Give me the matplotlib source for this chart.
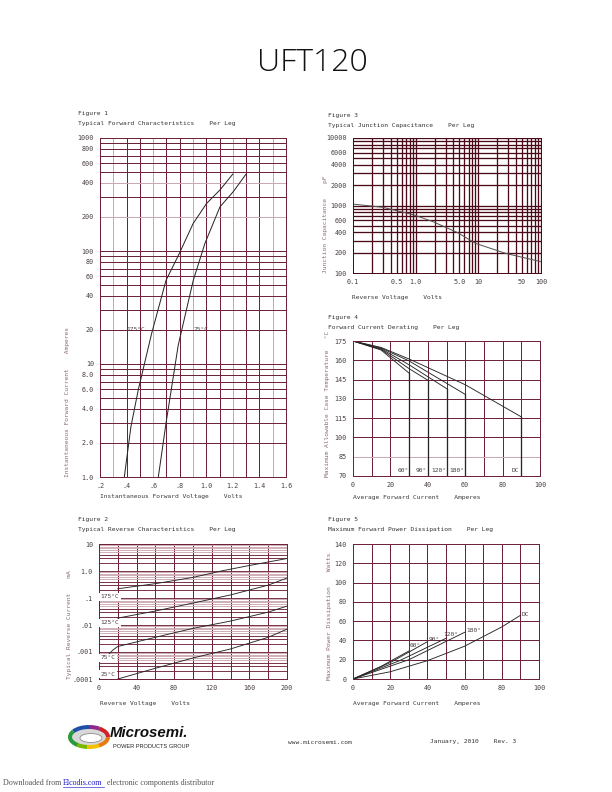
import matplotlib
matplotlib.use('Agg')
import matplotlib.pyplot as plt
from matplotlib.patches import Arc, Ellipse
from matplotlib.lines import Line2D

# ---- values ----
# Figure 1: forward characteristics (volts, amperes)
vf_175 = [0.383, 0.433, 0.488, 0.589, 0.697, 0.797, 0.902, 1.003, 1.103, 1.2]
if_175 = [1.0, 2.8, 5.9, 18.7, 55, 95, 176, 264, 347, 480]
vf_25 = [0.639, 0.697, 0.789, 0.902, 0.99, 1.103, 1.203, 1.3]
if_25 = [1.0, 3.0, 14.7, 55, 117, 246, 335, 480]
f1_xticks = [0.2, 0.4, 0.6, 0.8, 1.0, 1.2, 1.4, 1.6]
f1_xlabels = ['.2', '.4', '.6', '.8', '1.0', '1.2', '1.4', '1.6']
f1_yticks = [1, 2, 4, 6, 8, 10, 20, 40, 60, 80, 100, 200, 400, 600, 800, 1000]
f1_ylabels = ['1.0', '2.0', '4.0', '6.0', '8.0', '10', '20', '40', '60', '80',
              '100', '200', '400', '600', '800', '1000']

# Figure 2: reverse characteristics (volts, mA)
vr_175 = [20, 60, 100, 130, 160, 200]
ir_175 = [0.22, 0.34, 0.58, 1.0, 1.6, 2.9]
vr_125 = [20, 60, 100, 140, 180, 200]
ir_125 = [0.018, 0.033, 0.065, 0.13, 0.3, 0.55]
vr_75 = [10, 15, 20, 60, 100, 140, 180, 200]
ir_75 = [0.0008, 0.0012, 0.0016, 0.0035, 0.0075, 0.014, 0.03, 0.05]
vr_25 = [20, 60, 100, 140, 180, 200]
ir_25 = [0.0001, 0.00025, 0.0006, 0.0013, 0.0035, 0.007]
f2_labels = ['175°C', '125°C', '75°C', '25°C']
f2_label_y = [0.11, 0.012, 0.0006, 0.00015]
f2_yticks = [0.0001, 0.001, 0.01, 0.1, 1, 10]
f2_ylabels = ['.0001', '.001', '.01', '.1', '1.0', '10']

# Figure 3: junction capacitance (volts, pF)
vr_cap = [0.1, 0.3, 0.95, 1.9, 4.7, 9, 27, 59, 100]
cj = [1050, 940, 723, 575, 395, 275, 196, 165, 147]
f3_xticks = [0.1, 0.5, 1, 5, 10, 50, 100]
f3_xlabels = ['0.1', '0.5', '1.0', '5.0', '10', '50', '100']
f3_yticks = [100, 200, 400, 600, 1000, 2000, 4000, 6000, 10000]

# Figure 4: current derating (amperes, deg C)
der_names = ['60°', '90°', '120°', '180°', 'DC']
der_x = [[0, 15, 30], [0, 15, 30, 40], [0, 15, 30, 50], [0, 15, 30, 60],
         [0, 15, 30, 60, 90]]
der_t = [[175, 168, 150], [175, 168.5, 153.5, 144.5], [175, 169, 156.5, 138],
         [175, 169.5, 159.5, 133.5], [175, 170, 161, 141, 116]]

# Figure 5: power dissipation (amperes, watts)
pw_names = ['60°', '90°', '120°', '180°', 'DC']
pw_x = [[0, 15, 30], [0, 20, 40], [0, 25, 50], [0, 30, 60],
        [0, 20, 40, 60, 80, 90]]
pw_p = [[0, 13, 29], [0, 17, 38.7], [0, 19, 42.2], [0, 20, 48.4],
        [0, 7.5, 19, 34, 54, 66]]
pw_lab_xy = [(30.5, 32), (40.5, 38.5), (48.5, 44), (61, 48), (90.5, 64)]

W, H = 612, 792
MONO = 'DejaVu Sans Mono'
plt.rcParams['font.family'] = [MONO]
GRID = '#6f2338'
DARK = '#4a0a1a'
LIGHT = '#cba9b2'
TXT = '#4a3e42'
YLAB = '#8a6a72'
CURVE = '#262626'

fig = plt.figure(figsize=(W / 72, H / 72), dpi=72)
fig.patch.set_facecolor('white')


def add_ax(l, t, r, b):
    return fig.add_axes([l / W, 1 - b / H, (r - l) / W, (b - t) / H])


def ftext(x, y, s, **kw):
    return fig.text(x / W, 1 - y / H, s, **kw)


def style(ax, col):
    for s in ax.spines.values():
        s.set_color(col)
        s.set_linewidth(1.0)
        s.set_zorder(3)
    ax.tick_params(which='both', length=0, labelsize=6.8, colors=TXT, pad=6)
    ax.minorticks_off()


def heads(x, y, n, title, ylab, ybot, ylx, xlab, xly, xl):
    ftext(x, y, 'Figure %d' % n, fontsize=6.2, color='#333333', va='center')
    ftext(x, y + 10, title, fontsize=6.2, color='#333333', va='center')
    ftext(ylx, ybot, ylab, fontsize=6.2, color=YLAB, rotation=90,
          ha='center', va='bottom')
    ftext(xl, xly, xlab, fontsize=6.2, color='#3a3a3a', va='center')


# ---- Figure 1 ----
ax1 = add_ax(100, 138, 286, 477)
ax1.set_yscale('log')
ax1.set_xlim(0.2, 1.6)
ax1.set_ylim(1, 1000)
for i in range(3, 16):
    ax1.axvline(i / 10, color=LIGHT if i % 3 == 0 else GRID, lw=1.0, zorder=1)
for dec in [1, 10, 100]:
    for m in range(2, 11):
        val = m * dec
        ax1.axhline(val, color=LIGHT if val in (200, 400, 1000) else GRID,
                    lw=1.0, zorder=1)
ax1.plot(vf_175, if_175, color=CURVE, lw=1.0, zorder=2)
ax1.plot(vf_25, if_25, color=CURVE, lw=1.0, zorder=2)
ax1.text(0.4, 20, '175°C', fontsize=6.2, color=TXT, va='center', zorder=4)
ax1.text(0.9, 20, '25°C', fontsize=6.2, color=TXT, va='center', zorder=4)
ax1.set_xticks(f1_xticks)
ax1.set_xticklabels(f1_xlabels)
ax1.set_yticks(f1_yticks)
ax1.set_yticklabels(f1_ylabels)
style(ax1, GRID)
heads(78, 114, 1, 'Typical Forward Characteristics    Per Leg',
      'Instantaneous Forward Current    Amperes', 477, 67,
      'Instantaneous Forward Voltage    Volts', 497, 100)

# ---- Figure 3 ----
ax3 = add_ax(353, 138, 541, 273)
ax3.set_xscale('log')
ax3.set_yscale('log')
ax3.set_xlim(0.1, 100)
ax3.set_ylim(100, 10000)
for dec in [0.1, 1, 10]:
    for m in range(2, 11):
        ax3.axvline(m * dec, color=DARK, lw=1.3, zorder=1)
for dec in [100, 1000]:
    for m in range(2, 11):
        ax3.axhline(m * dec, color=DARK, lw=1.3, zorder=1)
ax3.plot(vr_cap, cj, color='#555555', lw=1.0, zorder=2)
ax3.set_xticks(f3_xticks)
ax3.set_xticklabels(f3_xlabels)
ax3.set_yticks(f3_yticks)
ax3.set_yticklabels([str(v) for v in f3_yticks])
style(ax3, DARK)
heads(328, 115, 3, 'Typical Junction Capacitance    Per Leg',
      'Junction Capacitance    pF', 273, 325,
      'Reverse Voltage    Volts', 297, 352)

# ---- Figure 4 ----
ax4 = add_ax(353, 341, 540, 476)
ax4.set_xlim(0, 100)
ax4.set_ylim(70, 175)
for v in range(10, 100, 10):
    ax4.axvline(v, color=GRID, lw=1.0, zorder=1)
for t in range(85, 175, 15):
    ax4.axhline(t, color=LIGHT if t == 85 else GRID, lw=1.0, zorder=1)
for xs, ts in zip(der_x, der_t):
    ax4.plot(xs, ts, color=CURVE, lw=0.9, zorder=2)
    ax4.plot([xs[-1], xs[-1]], [ts[-1], 70], color=CURVE, lw=1.3, zorder=2)
for name, xs in zip(der_names, der_x):
    ax4.text(xs[-1] - (1 if name == 'DC' else 0.3), 74, name, fontsize=6.2,
             color=TXT, ha='right', va='center', zorder=4)
ax4.set_xticks(range(0, 101, 20))
ax4.set_yticks(range(70, 176, 15))
style(ax4, GRID)
heads(328, 318, 4, 'Forward Current Derating    Per Leg',
      'Maximum Allowable Case Temperature   °C', 477, 328,
      'Average Forward Current    Amperes', 498, 353)

# ---- Figure 2 ----
ax2 = add_ax(99, 544, 287, 679)
ax2.set_yscale('log')
ax2.set_xlim(0, 200)
ax2.set_ylim(0.0001, 10)
for v in range(20, 200, 20):
    ax2.axvline(v, color=GRID, lw=1.0, zorder=1)
for dec in [0.0001, 0.001, 0.01, 0.1, 1]:
    for m in range(1, 10):
        ax2.axhline(m * dec, color=LIGHT if m >= 5 else GRID, lw=0.9, zorder=1)
ax2.plot(vr_175, ir_175, color=CURVE, lw=0.9, zorder=2)
ax2.plot(vr_125, ir_125, color=CURVE, lw=0.9, zorder=2)
ax2.plot(vr_75, ir_75, color=CURVE, lw=0.9, zorder=2)
ax2.plot(vr_25, ir_25, color=CURVE, lw=0.9, zorder=2)
for lab, yv in zip(f2_labels, f2_label_y):
    ax2.text(1.5, yv, lab, fontsize=6.2, color=TXT, va='center', zorder=4,
             bbox=dict(facecolor='white', edgecolor='none', pad=1.5))
ax2.set_xticks(range(0, 201, 40))
ax2.set_yticks(f2_yticks)
ax2.set_yticklabels(f2_ylabels)
style(ax2, GRID)
heads(78, 520, 2, 'Typical Reverse Characteristics    Per Leg',
      'Typical Reverse Current    mA', 679, 69,
      'Reverse Voltage    Volts', 703, 100)

# ---- Figure 5 ----
ax5 = add_ax(353, 544, 539, 679)
ax5.set_xlim(0, 100)
ax5.set_ylim(0, 140)
for v in range(10, 100, 10):
    ax5.axvline(v, color=GRID, lw=1.0, zorder=1)
for p in range(20, 140, 20):
    ax5.axhline(p, color=GRID, lw=1.0, zorder=1)
for xs, ps in zip(pw_x, pw_p):
    ax5.plot(xs, ps, color=CURVE, lw=0.9, zorder=2)
for name, (lx, ly) in zip(pw_names, pw_lab_xy):
    ax5.text(lx, ly, name, fontsize=6.2, color=TXT, ha='left', va='bottom',
             zorder=4)
ax5.set_xticks(range(0, 101, 20))
ax5.set_yticks(range(0, 141, 20))
style(ax5, GRID)
heads(328, 520, 5, 'Maximum Forward Power Dissipation    Per Leg',
      'Maximum Power Dissipation    Watts', 680, 330,
      'Average Forward Current    Amperes', 703, 353)

# ---- page title and footer ----
ftext(312, 63, 'UFT120', fontsize=32, color='#111111', ha='center',
      va='center', family=['Open Sans', 'Lato', 'DejaVu Sans'],
      fontweight='light')

logo = add_ax(66, 722, 112, 752)
logo.set_xlim(0, 46)
logo.set_ylim(0, 30)
logo.axis('off')
logo.add_patch(Ellipse((23, 15), 40, 22, facecolor='#d8d8d8', edgecolor='none'))
ring = [(90, 160, '#1f4fa8'), (160, 215, '#2a9a3a'), (215, 260, '#7ab800'),
        (260, 320, '#f2c200'), (320, 360, '#e87a10'), (0, 40, '#d0202a'),
        (40, 90, '#8a2a8a')]
for a0, a1, c in ring:
    logo.add_patch(Arc((23, 15), 38, 20, theta1=a0, theta2=a1, color=c, lw=4))
logo.add_patch(Ellipse((25, 14), 22, 9, facecolor='white', edgecolor='#888888',
                       lw=0.8))
ftext(110, 733, 'Microsemi.', fontsize=15, fontweight='bold', style='italic',
      family=['Liberation Sans', 'DejaVu Sans'], color='#111111', va='center')
ftext(113, 746, 'POWER PRODUCTS GROUP', fontsize=5.6,
      family=['Liberation Sans', 'DejaVu Sans'], color='#222222', va='center')

ftext(288, 742, 'www.microsemi.com', fontsize=6.2, color='#333333', va='center')
ftext(430, 742, 'January, 2010    Rev. 3', fontsize=6.2, color='#333333',
      va='center')

SERIF = ['Liberation Serif', 'DejaVu Serif']
ftext(3, 783, 'Downloaded from', fontsize=8, family=SERIF, color='#555555',
      va='center')
ftext(63, 783, 'Elcodis.com', fontsize=8, family=SERIF, color='#1a1acc',
      va='center')
fig.add_artist(Line2D([63 / W, 104 / W], [1 - 787 / H, 1 - 787 / H],
                      color='#1a1acc', lw=0.6))
ftext(107, 783, 'electronic components distributor', fontsize=8, family=SERIF,
      color='#555555', va='center')

fig.savefig('out.png', dpi=72, facecolor='white')
